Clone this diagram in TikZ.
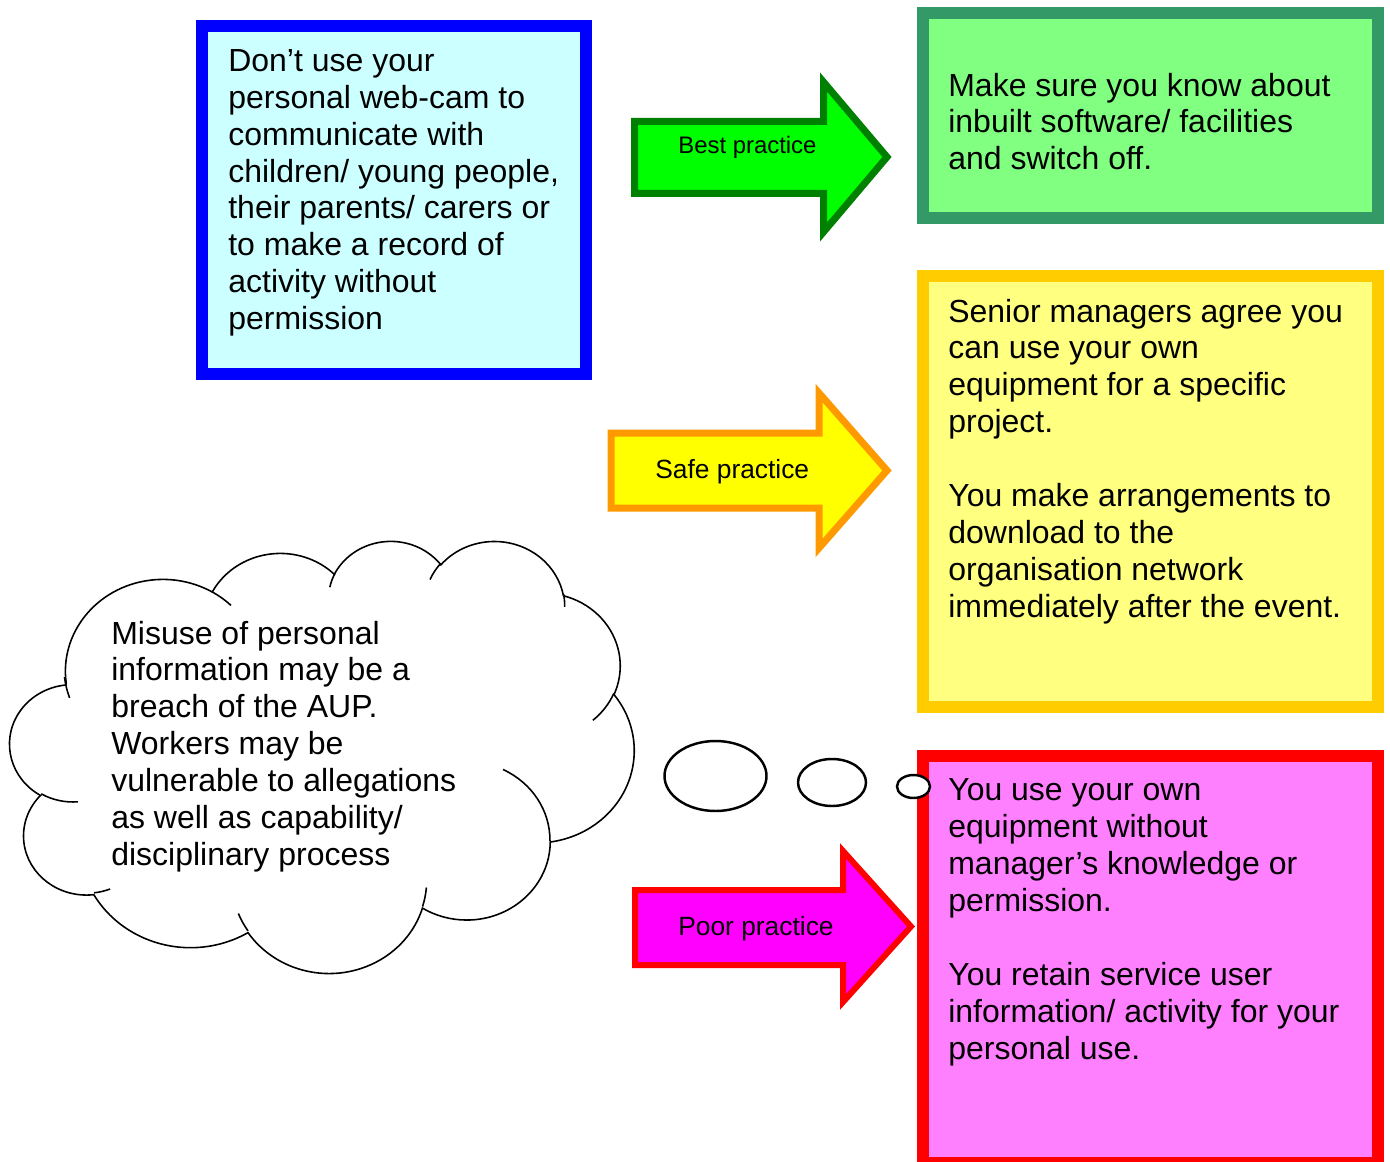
\documentclass[tikz,border=0pt]{standalone}
\usepackage{fontspec}
\setmainfont{Liberation Sans}
\definecolor{edgeblue}{HTML}{0000FF}
\definecolor{fillblue}{HTML}{CCFFFF}
\definecolor{edgegreen}{HTML}{339966}
\definecolor{fillgreen}{HTML}{80FF80}
\definecolor{edgeyellow}{HTML}{FFCC00}
\definecolor{fillyellow}{HTML}{FFFF80}
\definecolor{edgered}{HTML}{FF0000}
\definecolor{fillpink}{HTML}{FF80FF}
\definecolor{bestedge}{HTML}{008000}
\definecolor{bestfill}{HTML}{00FF00}
\definecolor{safeedge}{HTML}{FF9900}
\definecolor{safefill}{HTML}{FFFF00}
\definecolor{pooredge}{HTML}{FF0000}
\definecolor{poorfill}{HTML}{FF00FF}
\tikzset{
  box/.style={draw,line width=0.24cm,minimum width=9.1cm,inner sep=0pt},
  bodytext/.style={anchor=north west,inner sep=0pt,align=left,font=\fontsize{18.2}{21}\selectfont},
  arrowlabel/.style={anchor=base west,inner sep=0pt,font=\fontsize{15}{18}\selectfont},
  arrowbody/.style={line width=0.14cm},
  cloudline/.style={line width=0.9pt},
  bubble/.style={draw=black,fill=white,line width=1.4pt}
}
\begin{document}
\begin{tikzpicture}[x=0.02cm,y=-0.02cm]
\useasboundingbox (0,0) rectangle (1390,1162);
% the four boxes
\node[box,draw=edgeblue,fill=fillblue,minimum width=7.68cm,minimum height=6.96cm] (dontbox) at (394,200) {};
\node[box,draw=edgegreen,fill=fillgreen,minimum height=4.1cm] (bestbox) at (1150.5,115.5) {};
\node[box,draw=edgeyellow,fill=fillyellow,minimum height=8.62cm] (safebox) at (1150.5,491.5) {};
\node[box,draw=edgered,fill=fillpink,minimum height=8.14cm] (poorbox) at (1150.5,959.5) {};
\node[bodytext] (donttext) at (228,49) {Don’t use your\\personal web-cam to\\communicate with\\children/ young people,\\their parents/ carers or\\to make a record of\\activity without\\permission};
\node[bodytext] (besttext) at (948,72.5) {Make sure you know about\\inbuilt software/ facilities\\and switch off.};
\node[bodytext] (safetext) at (948,298.5) {Senior managers agree you\\can use your own\\equipment for a specific\\project.\\[21pt]You make arrangements to\\download to the\\organisation network\\immediately after the event.};
\node[bodytext] (poortext) at (948,778.5) {You use your own\\equipment without\\manager’s knowledge or\\permission.\\[21pt]You retain service user\\information/ activity for your\\personal use.};
% arrows
\draw[arrowbody,draw=bestedge,fill=bestfill] (634.5,121.5) -- (823.5,121.5) -- (823.5,82) -- (887,157) -- (823.5,232) -- (823.5,193.5) -- (634.5,193.5) -- cycle;
\node[arrowlabel,font=\fontsize{13.6}{16}\selectfont] (bestlabel) at (678,154) {Best practice};
\draw[arrowbody,draw=safeedge,fill=safefill] (611,433) -- (819,433) -- (819,393) -- (887,470.5) -- (819,548) -- (819,508) -- (611,508) -- cycle;
\node[arrowlabel] (safelabel) at (655,478) {Safe practice};
\draw[arrowbody,line width=0.12cm,draw=pooredge,fill=poorfill] (635,890) -- (843,890) -- (843,851) -- (911,926.5) -- (843,1002) -- (843,965) -- (635,965) -- cycle;
\node[arrowlabel] (poorlabel) at (678,935) {Poor practice};
% cloud
\draw[cloudline,fill=white] (66.3,683.7)
  arc[start angle=-187.75,end angle=-59.64,x radius=97.54,y radius=91.90]
  arc[start angle=-152.04,end angle=-45.43,x radius=77.03,y radius=72.67]
  arc[start angle=-153.49,end angle=-37.32,x radius=63.05,y radius=59.45]
  arc[start angle=-139.72,end angle=-10.21,x radius=70.15,y radius=65.95]
  arc[start angle=-74.77,end angle=23.21,x radius=77.03,y radius=72.73]
  arc[start angle=-37.52,end angle=81.86,x radius=97.86,y radius=92.20]
  arc[start angle=0.46,end angle=121.98,x radius=83.56,y radius=78.67]
  arc[start angle=16.85,end angle=146.23,x radius=97.53,y radius=92.15]
  arc[start angle=58.99,end angle=150.20,x radius=111.51,y radius=105.43]
  arc[start angle=-276.69,end angle=-136.88,x radius=62.98,y radius=59.18]
  arc[start angle=-239.64,end angle=-95.89,x radius=62.76,y radius=59.45]
  -- cycle;
\draw[cloudline] (77.8,801.8) arc[start angle=85.55,end angle=120.36,x radius=62.76,y radius=59.45];
\draw[cloudline] (110.1,889.0) arc[start angle=68.24,end angle=83.31,x radius=62.98,y radius=59.18];
\draw[cloudline] (248.0,930.9) arc[start angle=146.23,end angle=158.47,x radius=97.53,y radius=92.15];
\draw[cloudline] (426.4,887.5) arc[start angle=4.74,end angle=16.85,x radius=97.53,y radius=92.15];
\draw[cloudline] (503.0,769.5) arc[start angle=-64.03,end angle=0.46,x radius=83.56,y radius=78.67];
\draw[cloudline] (613.8,693.5) arc[start angle=23.21,end angle=49.65,x radius=77.03,y radius=72.73];
\draw[cloudline] (563.6,594.3) arc[start angle=-10.21,end angle=0.82,x radius=70.15,y radius=65.95];
\draw[cloudline] (430.0,579.5) arc[start angle=-156.28,end angle=-139.72,x radius=70.15,y radius=65.95];
\draw[cloudline] (329.8,587.2) arc[start angle=-167.73,end angle=-153.49,x radius=63.05,y radius=59.45];
\draw[cloudline] (212.2,591.9) arc[start angle=-59.64,end angle=-45.72,x radius=97.54,y radius=91.90];
\draw[cloudline] (69.6,697.9) arc[start angle=160.37,end angle=173.76,x radius=97.54,y radius=91.90];
\node[bodytext] (cloudtext) at (111,620.5) {Misuse of personal\\information may be a\\breach of the AUP.\\Workers may be\\vulnerable to allegations\\as well as capability/\\disciplinary process};
% thought bubbles
\draw[bubble] (715.5,776) ellipse[x radius=51,y radius=35];
\draw[bubble] (832,782.5) ellipse[x radius=34,y radius=23.5];
\draw[bubble] (913.5,786.5) ellipse[x radius=16.5,y radius=11.5];
\end{tikzpicture}
\end{document}
